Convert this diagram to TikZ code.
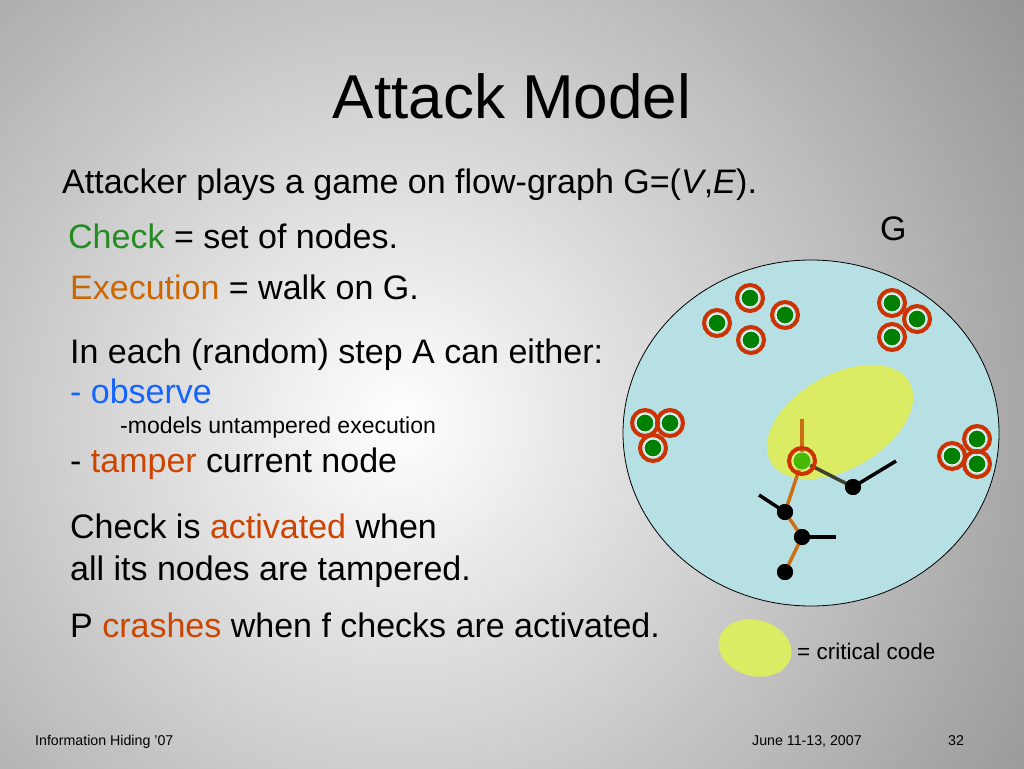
\documentclass[tikz,border=0pt]{standalone}
\usepackage{fontspec}
\setmainfont{Liberation Sans}
\begin{document}
\begin{tikzpicture}[x=1pt,y=-1pt,
  txt/.style={anchor=base west,inner sep=0pt,font=\fontsize{34}{34}\selectfont},
  sml/.style={anchor=base west,inner sep=0pt,font=\fontsize{23}{23}\selectfont},
  foot/.style={anchor=base west,inner sep=0pt,font=\fontsize{14.2}{14.2}\selectfont},
  ring/.style={circle,draw=ringred,line width=4pt,minimum size=26pt,inner sep=0pt},
  dot/.style={circle,fill=black,minimum size=16pt,inner sep=0pt},
  oe/.style={draw=edgeorange,line width=3.5pt},
  be/.style={draw=black,line width=3.5pt}]
\definecolor{nodegreen}{RGB}{0,128,0}
\definecolor{ringred}{RGB}{204,51,0}
\definecolor{edgeorange}{RGB}{204,110,20}
\definecolor{chkgreen}{RGB}{34,139,34}
\definecolor{exorange}{RGB}{204,102,0}
\definecolor{obsblue}{RGB}{20,100,255}
\definecolor{tampred}{RGB}{204,68,0}
\definecolor{pale}{RGB}{183,224,228}
\definecolor{crit}{RGB}{220,235,100}
\useasboundingbox (0,0) rectangle (1024,768);
\begin{scope}
\clip (0,0) rectangle (1024,768);
\shade[inner color=white,outer color=black!42] (400,420) circle (760);
\end{scope}
\node[anchor=base,inner sep=0pt,font=\fontsize{62}{62}\selectfont] (title) at (512,118) {Attack Model};
\node[txt] (t1) at (62,193) {Attacker plays a game on flow-graph G=(\textit{V},\textit{E}).};
\node[txt] (t2) at (68,248) {\textcolor{chkgreen}{Check} = set of nodes.};
\node[txt] (g) at (880,240) {G};
\node[txt] (t3) at (70,299) {\textcolor{exorange}{Execution} = walk on G.};
\node[txt] (t4) at (70,363) {In each (random) step A can either:};
\node[txt,text=obsblue] (t5) at (70,403) {- observe};
\node[sml] (t6) at (120,433) {-models untampered execution};
\node[txt] (t7) at (70,472) {- \textcolor{tampred}{tamper} current node};
\node[txt] (t8) at (70,538) {Check is \textcolor{tampred}{activated} when};
\node[txt] (t9) at (70,580) {all its nodes are tampered.};
\node[txt] (t10) at (70,637) {P \textcolor{tampred}{crashes} when f checks are activated.};
\node[foot] (f1) at (35,745) {Information Hiding '07};
\node[foot] (f2) at (752,745) {June 11-13, 2007};
\node[foot] (f3) at (948,745) {32};
% graph
\draw[fill=pale,draw=black,line width=0.8pt] (811,433) ellipse (188 and 173);
\fill[crit] (840,422) ellipse[x radius=80,y radius=47,rotate=30];
% check nodes
\foreach \n/\x/\y in {a1/750/298,a2/717/323,a3/785/315,a4/751/340,
  b1/892/303,b2/917/319,b3/892/337,c1/645/423,c2/670/423,c3/653/448,
  d1/977/439,d2/952/456,d3/977/464}{
  \node[ring] (r\n) at (\x,\y) {};
  \node[circle,fill=nodegreen,draw=white,line width=1pt,minimum size=18pt,inner sep=0pt] (\n) at (\x,\y) {};
}
% walk
\coordinate (up) at (802,419);
\node[dot] (w1) at (785,512) {};
\node[dot] (w2) at (802,537) {};
\node[dot] (w3) at (785,572) {};
\node[dot] (k1) at (853,487) {};
\coordinate (k2) at (896,461);
\coordinate (e1) at (759,495);
\coordinate (e2) at (836,537);
\node[circle,minimum size=18pt,inner sep=0pt] (cur) at (802,461) {};
\draw[oe] (cur.center) -- (up);
\draw[oe] (cur.center) -- (w1.center) -- (w2.center) -- (w3.center);
\draw[be] (w1.center) -- (e1);
\draw[be] (w2.center) -- (e2);
\draw[be] (k1.center) -- (k2);
\draw[draw=black!70!olive,line width=3.5pt] (cur.center) -- (k1.center);
\node[dot] at (k1) {};
\node[dot] at (w1) {};
\node[dot] at (w2) {};
\node[dot] at (w3) {};
\node[ring] (curr) at (802,461) {};
\node[circle,fill=green!45!olive,draw=white,line width=0.5pt,minimum size=18pt,inner sep=0pt] at (cur) {};
% legend
\fill[crit] (755,648) ellipse[x radius=37,y radius=28,rotate=-15] node (leg) {};
\node[anchor=base west,inner sep=0pt,font=\fontsize{22.5}{22.5}\selectfont] (legt) at (797,659) {= critical code};
\end{tikzpicture}
\end{document}
